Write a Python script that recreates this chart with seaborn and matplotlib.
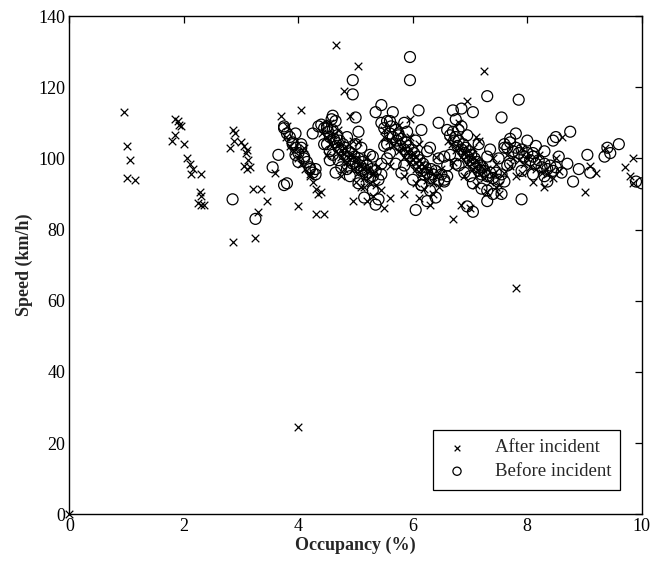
import numpy as np
import pandas as pd
import matplotlib
matplotlib.use("Agg")
import matplotlib.pyplot as plt
import seaborn as sns

# ---------------- data ----------------
# After incident (x markers): occupancy (%), speed (km/h)
after_occ = [
    0.0, 0.95, 1.0, 1.05, 1.0, 1.15,
    1.85, 1.9, 1.92, 1.95, 1.85, 1.8, 2.0, 2.05, 2.1, 2.15, 2.12, 2.3, 2.28, 2.3, 2.25, 2.35, 2.3,
    2.85, 2.9, 2.88, 2.8, 3.0, 3.05, 3.1, 3.08, 3.12, 3.05, 3.1, 3.15, 2.85, 3.25, 3.2, 3.35, 3.3,
    3.45, 3.6, 3.7, 3.8, 4.0, 4.05, 4.0, 4.3, 4.45, 4.2, 4.1, 4.4, 4.65, 4.8, 5.05, 4.55, 4.9,
    4.95, 5.2, 5.5, 5.6, 5.85, 6.1, 6.3, 6.7, 6.85, 7.0, 7.25, 7.1, 7.5, 7.8, 7.45, 7.9, 8.3,
    8.0, 8.5, 8.6, 9.0, 9.1, 9.35, 9.2, 9.7, 9.85, 9.8, 9.85, 6.95, 5.5, 5.95, 5.15,
    # band A
    3.78, 3.85, 3.92, 4.0, 4.05, 4.12, 4.2, 4.25, 4.3, 4.35,
    # band B
    4.42, 4.48, 4.55, 4.6, 4.65, 4.7, 4.75, 4.8, 4.85, 4.9, 4.95, 5.0, 5.05, 5.1, 5.15, 5.2,
    5.25, 5.3, 5.35, 4.8, 5.1, 4.95, 5.2, 5.45,
    # band C
    5.5, 5.58, 5.65, 5.7, 5.75, 5.8, 5.85, 5.9, 5.95, 6.0, 6.05, 6.1, 6.15, 6.2, 6.25, 6.3,
    6.35, 6.4, 6.45, 5.95, 6.2, 6.5,
    # band D
    6.62, 6.68, 6.75, 6.8, 6.85, 6.9, 6.95, 7.0, 7.05, 7.1, 7.15, 7.2, 7.25, 7.3, 7.35, 7.4,
    7.5, 7.15, 7.4,
    # band E
    7.65, 7.75, 7.85, 7.95, 8.05, 8.15, 8.25, 8.35, 8.45, 7.7,
    # spread around the bands
    4.5, 4.75, 5.0, 5.3, 4.7, 5.05, 5.4, 5.6, 5.85, 6.05, 6.35, 5.75, 6.1, 6.4, 6.7, 6.9,
    7.1, 7.3, 6.8, 7.05, 7.45, 7.6, 7.8, 8.1, 7.9, 8.2, 8.55,
]
after_speed = [
    0.0, 113, 103.5, 99.5, 94.5, 94,
    111, 110.5, 109.5, 109, 106.5, 105, 104, 100, 98.5, 97, 95.5, 95.5, 90.5, 89.5, 87.5, 87, 87,
    108, 107, 105, 103, 104.5, 103.5, 102.5, 101.5, 99.5, 98, 97, 97.5, 76.5, 77.5, 91.5, 91.5, 85,
    88, 96, 112, 109, 86.5, 113.5, 24.5, 84.5, 84.5, 95, 103, 90.5, 132, 119, 126, 110, 112,
    88, 88, 86, 89, 90, 89, 87, 83, 87, 86, 124.5, 106, 90, 63.5, 92, 96, 92,
    100, 100, 106, 90.5, 98, 103, 96, 97.5, 100, 95, 93, 116, 108, 111, 92,
    # band A
    106, 103.5, 102, 100, 98.5, 97, 95.5, 93.5, 91.5, 90,
    # band B
    107, 106, 104, 106.5, 102, 104, 100.5, 103, 99, 101, 97, 100, 96, 98, 94.5, 97,
    93, 96, 92.5, 97, 92, 105, 100.5, 91,
    # band C
    106, 105, 103.5, 104.5, 102, 103, 100.5, 102, 99, 101, 97, 99.5, 95.5, 98, 94, 96.5,
    93, 95, 92, 106, 91.5, 97,
    # band D
    105, 104, 102.5, 103, 100.5, 102, 98.5, 100.5, 97, 99.5, 95.5, 98, 94.5, 97, 93.5, 95.5,
    92.5, 105, 100,
    # band E
    101, 100, 99.5, 98.5, 97.5, 97, 96, 95.5, 94.5, 98,
    # spread around the bands
    101, 95, 93.5, 89.5, 108, 104.5, 98, 98, 95, 93, 90, 109.5, 104, 100.5, 99, 95,
    92.5, 90.5, 110, 103, 98.5, 96, 95, 93.5, 103, 101, 96.5,
]

# Before incident (circle markers)
before_occ = [
    2.85, 3.25, 3.55, 3.75, 3.65, 3.8, 3.75, 3.95, 3.9, 4.05, 4.1, 4.2, 4.3, 4.25, 4.35, 4.5,
    4.6, 4.65, 4.5, 4.55, 4.95, 4.95, 5.0, 5.05, 5.35, 5.45, 5.55, 5.35, 5.4, 5.95, 5.95, 6.1,
    6.15, 5.85, 5.6, 5.75, 6.45, 6.7, 6.8, 6.85, 7.3, 7.05, 7.55, 7.85, 7.7, 7.6, 7.3, 7.05,
    6.95, 7.3, 7.55, 7.9, 8.15, 8.45, 8.1, 8.3, 8.8, 9.05, 9.1, 8.75, 8.5, 9.45, 9.4, 9.6,
    9.9, 10.0, 9.35, 6.15, 6.55, 6.05,
    # band A
    3.75, 3.8, 3.85, 3.9, 3.95, 4.0, 4.05, 4.1, 4.15, 4.2, 4.25, 4.3, 3.95, 4.0,
    # band B
    4.40, 4.45, 4.50, 4.52, 4.55, 4.60, 4.62, 4.65, 4.68, 4.70, 4.72, 4.75, 4.78, 4.80, 4.82,
    4.85, 4.88, 4.90, 4.92, 4.95, 4.98, 5.00, 5.02, 5.05, 5.08, 5.10, 5.12, 5.15, 5.18, 5.20,
    5.22, 5.25, 5.28, 5.30, 5.35, 5.40, 5.45, 4.58, 4.85, 5.0, 4.7, 5.25,
    # band C
    5.45, 5.5, 5.55, 5.6, 5.62, 5.65, 5.7, 5.72, 5.75, 5.78, 5.8, 5.85, 5.88, 5.9, 5.92, 5.95,
    5.98, 6.0, 6.02, 6.05, 6.08, 6.1, 6.12, 6.15, 6.18, 6.2, 6.22, 6.25, 6.3, 6.32, 6.35, 6.4,
    6.45, 6.5, 6.55, 6.6, 5.6, 5.85, 6.25, 5.5,
    # band D
    6.6, 6.65, 6.7, 6.72, 6.75, 6.78, 6.8, 6.85, 6.88, 6.9, 6.92, 6.95, 6.98, 7.0, 7.02, 7.05,
    7.08, 7.1, 7.12, 7.15, 7.18, 7.2, 7.22, 7.25, 7.3, 7.35, 7.4, 7.45, 7.5, 7.55, 7.6, 6.85,
    7.0, 6.75, 7.3,
    # band E
    7.6, 7.65, 7.7, 7.75, 7.8, 7.85, 7.9, 7.95, 8.0, 8.05, 8.1, 8.15, 8.2, 8.25, 8.3, 8.35,
    8.4, 8.45, 8.5, 8.6,
    # spread around the bands
    4.45, 4.6, 4.75, 4.9, 5.05, 5.3, 4.55, 4.85, 5.1, 5.3, 5.45, 5.15, 4.65,
    5.55, 5.7, 5.8, 6.0, 6.15, 6.3, 5.65, 5.9, 6.05, 6.3, 6.45, 6.6, 6.4, 6.25,
    6.65, 6.8, 6.9, 7.05, 7.2, 6.75, 6.95, 7.15, 7.35, 7.5, 7.65, 7.4, 6.55,
    7.7, 7.9, 8.1, 8.35, 7.8, 8.0, 8.3, 8.55, 8.7, 8.9,
]
before_speed = [
    88.5, 83, 97.5, 109, 101, 93, 92.5, 101, 104, 103, 100, 97, 95.5, 107, 109, 108.5,
    112, 110.5, 104, 102, 122, 118, 111.5, 107.5, 113, 115, 104, 87, 88.5, 128.5, 122, 113.5,
    108, 110, 110.5, 107, 110, 113.5, 108, 114, 117.5, 113, 111.5, 116.5, 105.5, 103, 91, 85,
    86.5, 88, 90, 88.5, 103.5, 105, 101.5, 95, 93.5, 101, 96, 107.5, 106, 101.5, 103, 104,
    93.5, 93, 100.5, 92.5, 94, 85.5,
    # band A
    108.5, 107, 106, 104.5, 103, 101.5, 104, 100.5, 99, 97.5, 96, 97, 107, 99,
    # band B
    109.5, 108.5, 109, 107.5, 106, 108, 105.5, 104.5, 106.5, 103, 105, 102.5, 104, 101, 103,
    100.5, 102, 99.5, 101.5, 98.5, 100.5, 99, 97.5, 100, 98, 96.5, 99, 97, 95.5, 98,
    96, 94.5, 97, 95, 96.5, 94, 95.5, 111, 97, 104, 99.5, 101,
    # band C
    110, 108.5, 110.5, 107, 109, 106, 108, 105, 106.5, 103.5, 105.5, 102.5, 104.5, 101.5, 103.5, 100.5,
    102.5, 99.5, 101.5, 98.5, 100.5, 97.5, 99.5, 96.5, 98.5, 95.5, 97.5, 96, 94.5, 97, 95.5, 96.5,
    94, 95.5, 93.5, 95, 101.5, 98, 102, 103.5,
    # band D
    108, 106.5, 107.5, 105, 106, 103.5, 105, 102.5, 104, 101.5, 103, 100.5, 102, 99.5, 101, 98.5,
    100, 97.5, 99, 96.5, 98, 95.5, 97.5, 96.5, 95, 96, 94.5, 96, 94, 95.5, 93.5, 109,
    95, 98.5, 100.5,
    # band E
    104, 103, 104.5, 102, 103, 101.5, 102.5, 100.5, 101.5, 99.5, 100.5, 98.5, 99.5, 97.5, 98.5, 97,
    98, 96.5, 97.5, 96,
    # spread around the bands
    104, 101, 97.5, 95, 93, 91, 99.5, 106, 103, 100.5, 98.5, 89, 96,
    100, 98.5, 96, 94, 92.5, 91, 113, 107.5, 105, 103, 100, 98, 89, 88,
    101, 98, 96, 93, 91.5, 111, 106.5, 104, 102.5, 100, 98, 90, 100.5,
    98.5, 96.5, 95.5, 93.5, 107, 105, 102, 100.5, 98.5, 97,
]

x_ticks = [0, 2, 4, 6, 8, 10]
y_ticks = [0, 20, 40, 60, 80, 100, 120, 140]
x_label = "Occupancy (%)"
y_label = "Speed (km/h)"
labels = ["After incident", "Before incident"]

# ---------------- plotting ----------------
sns.set_theme(style="white")
plt.rcParams["font.family"] = ["Liberation Serif", "DejaVu Serif"]

after_df = pd.DataFrame({"occ": after_occ, "speed": after_speed})
before_df = pd.DataFrame({"occ": before_occ, "speed": before_speed})

fig = plt.figure(figsize=(6.65, 5.65), dpi=100)
ax = fig.add_axes([0.1045, 0.090, 0.8605, 0.8815])

sns.scatterplot(data=after_df, x="occ", y="speed", marker="x", color="black",
                s=30, linewidth=0.9, ax=ax, label=labels[0], clip_on=False)
sns.scatterplot(data=before_df, x="occ", y="speed", marker="o", facecolors="none",
                edgecolor="black", s=62, linewidth=0.9, ax=ax, label=labels[1])

ax.set_xlim(0, 10)
ax.set_ylim(0, 140)
ax.set_xticks(x_ticks)
ax.set_yticks(y_ticks)
ax.set_xticklabels([str(t) for t in x_ticks])
ax.set_yticklabels([str(t) for t in y_ticks])
ax.tick_params(direction="in", length=5, width=0.9, top=True, right=True,
               labelsize=13, colors="black", pad=3)
for sp in ax.spines.values():
    sp.set_color("black")
    sp.set_linewidth(1.0)
ax.set_xlabel(x_label, fontsize=13, fontweight="bold", labelpad=1)
ax.set_ylabel(y_label, fontsize=13, fontweight="bold", labelpad=4)

leg = ax.legend(loc="lower right", bbox_to_anchor=(0.947, 0.117),
                bbox_transform=fig.transFigure, frameon=True, fancybox=False,
                framealpha=1, edgecolor="black", fontsize=13.5, borderpad=0.5,
                handletextpad=1.2, labelspacing=0.35, handlelength=1.6,
                markerscale=0.75)
leg.get_frame().set_linewidth(0.9)

fig.savefig("out.png", dpi=100)
